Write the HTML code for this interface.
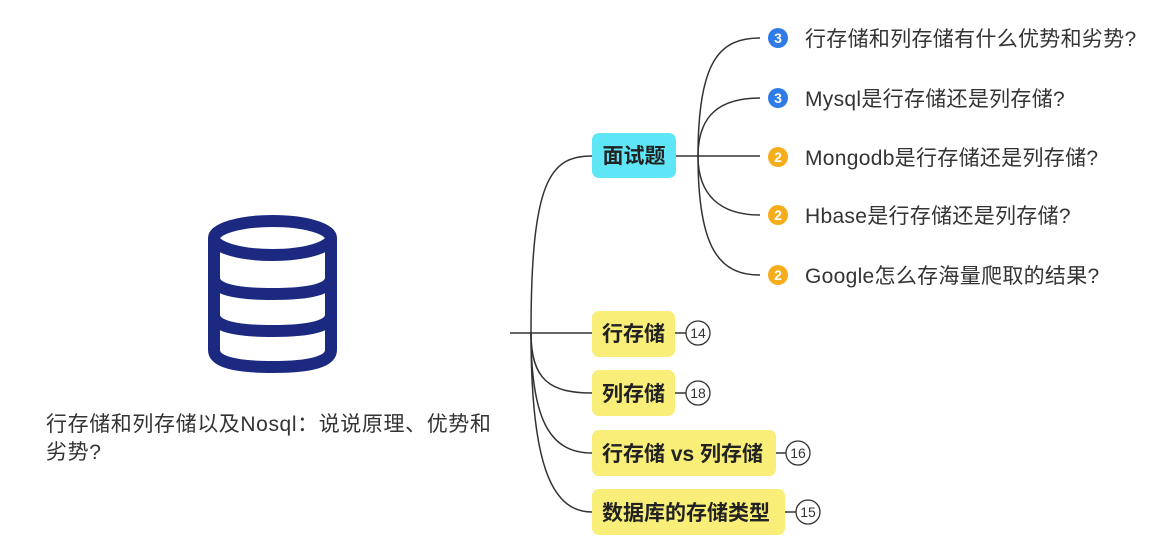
<!DOCTYPE html>
<html><head><meta charset="utf-8"><style>
body{margin:0;background:#fff;width:1174px;height:546px;overflow:hidden;font-family:"Liberation Sans","Noto Sans CJK SC",sans-serif}
</style></head><body>
<svg width="1174" height="546" viewBox="0 0 1174 546" xmlns="http://www.w3.org/2000/svg" style="position:absolute;left:0;top:0">
<g fill="none" stroke="#1b2a80" stroke-width="12" stroke-linejoin="round">
<ellipse cx="272.5" cy="238" rx="58.5" ry="17"/>
<path d="M214 238 V350 Q214 367 272.5 367 Q331 367 331 350 V238"/>
<path d="M214 278 Q214 294 272.5 294 Q331 294 331 278"/>
<path d="M214 315 Q214 331 272.5 331 Q331 331 331 315"/>
</g>
<g font-size="21" fill="#333" letter-spacing="0.6" font-family="Liberation Sans, Noto Sans CJK SC, sans-serif">
<text x="46" y="431">行存储和列存储以及Nosql：说说原理、优势和</text>
<text x="46" y="459">劣势?</text>
</g>
<g fill="none" stroke="#333" stroke-width="1.5">
<path d="M510 333 H592"/>
<path d="M531 333 C531 180 550 156 592 156"/>
<path d="M531 333 C531 380 550 393 592 393"/>
<path d="M531 333 C531 420 550 453 592 453"/>
<path d="M531 333 C531 460 550 512 592 512"/>
<path d="M676 156 H760"/>
<path d="M698 156 C698 60 720 38 760 38"/>
<path d="M698 156 C698 115 720 98 760 98"/>
<path d="M698 156 C698 195 720 215 760 215"/>
<path d="M698 156 C698 250 720 275 760 275"/>
<path d="M675 333 H686"/><path d="M675 393 H686"/><path d="M776 453 H786"/><path d="M785 512 H796"/>
</g>
<rect x="592" y="133" width="84" height="45" rx="7" fill="#5ee6f7"/>
<text x="634" y="163" font-size="21" font-weight="bold" text-anchor="middle" fill="#222" font-family="Liberation Sans, Noto Sans CJK SC, sans-serif">面试题</text>
<g fill="#f8ee78">
<rect x="592" y="311" width="83" height="46" rx="7"/>
<rect x="592" y="370" width="83" height="46" rx="7"/>
<rect x="592" y="430" width="184" height="46" rx="7"/>
<rect x="592" y="489" width="193" height="46" rx="7"/>
</g>
<g font-size="21" font-weight="bold" fill="#222" font-family="Liberation Sans, Noto Sans CJK SC, sans-serif">
<text x="602" y="341">行存储</text>
<text x="602" y="401">列存储</text>
<text x="602" y="461">行存储 vs 列存储</text>
<text x="602" y="520">数据库的存储类型</text>
</g>
<g fill="#fff" stroke="#333" stroke-width="1.3">
<circle cx="698" cy="333" r="12"/><circle cx="698" cy="393" r="12"/><circle cx="798" cy="453" r="12"/><circle cx="808" cy="512" r="12"/>
</g>
<g font-size="14" fill="#333" text-anchor="middle" font-family="Liberation Sans, sans-serif">
<text x="698" y="338">14</text><text x="698" y="398">18</text><text x="798" y="458">16</text><text x="808" y="517">15</text>
</g>
<g>
<circle cx="778" cy="38" r="10" fill="#2f7be8"/><circle cx="778" cy="98" r="10" fill="#2f7be8"/>
<circle cx="778" cy="157" r="10" fill="#f6ad1c"/><circle cx="778" cy="215" r="10" fill="#f6ad1c"/><circle cx="778" cy="275" r="10" fill="#f6ad1c"/>
</g>
<g font-size="14" font-weight="bold" fill="#fff" text-anchor="middle" font-family="Liberation Sans, sans-serif">
<text x="778" y="43">3</text><text x="778" y="103">3</text><text x="778" y="162">2</text><text x="778" y="220">2</text><text x="778" y="280">2</text>
</g>
<g font-size="21" fill="#333" letter-spacing="0.3" font-family="Liberation Sans, Noto Sans CJK SC, sans-serif">
<text x="805" y="46">行存储和列存储有什么优势和劣势?</text>
<text x="805" y="106">Mysql是行存储还是列存储?</text>
<text x="805" y="165">Mongodb是行存储还是列存储?</text>
<text x="805" y="223">Hbase是行存储还是列存储?</text>
<text x="805" y="283">Google怎么存海量爬取的结果?</text>
</g>
</svg>
</body></html>
